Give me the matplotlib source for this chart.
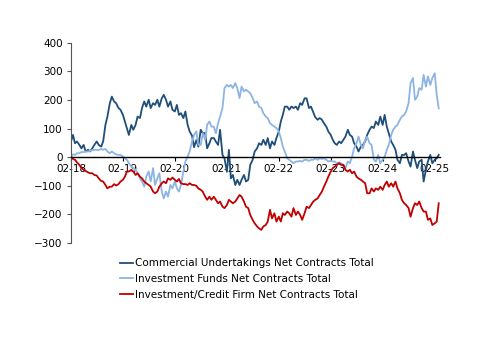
import numpy as np
import pandas as pd
import matplotlib
matplotlib.use("Agg")
import matplotlib.pyplot as plt
import matplotlib.dates as mdates

# semi-monthly readings, Feb 2018 -> Mar 2025
dates = pd.date_range("2018-02-01", periods=171, freq="SMS")

commercial = [55, 78, 49, 55, 43, 31, 43, 20, 26, 20,
              31, 43, 55, 43, 37, 55, 113, 142, 189, 212,
              195, 189, 172, 166, 148, 125, 102, 78, 113, 96,
              113, 142, 137, 172, 195, 177, 201, 172, 189, 183,
              201, 177, 206, 218, 201, 177, 195, 166, 160, 183,
              148, 154, 137, 160, 113, 90, 75, 35, 60, 37,
              96, 84, 84, 31, 49, 67, 67, 55, 43, 96,
              8, -4, -51, 26, -74, -62, -97, -79, -97, -79,
              -62, -85, -79, -27, -9, 20, 31, 49, 43, 61,
              43, 67, 31, 55, 43, 67, 90, 125, 148, 177,
              177, 166, 177, 172, 177, 166, 189, 183, 206, 206,
              172, 177, 157, 140, 131, 137, 131, 119, 107, 90,
              78, 61, 49, 43, 55, 49, 61, 72, 96, 78,
              72, 49, 37, 20, 37, 43, 55, 78, 96, 107,
              102, 125, 113, 142, 113, 148, 107, 84, 55, 43,
              26, -9, -21, 8, 8, 14, -15, -33, 20, -9,
              -38, -15, -9, -85, -44, -15, 8, -21, -9, -4,
              8]

inv_funds = [2, 10, 8, 14, 14, 18, 18, 20, 20, 22,
             25, 26, 26, 25, 29, 26, 29, 20, 14, 20,
             14, 10, 8, 8, 2, -4, -9, -21, -33, -38,
             -44, -56, -74, -85, -103, -68, -50, -85, -38, -97,
             -74, -56, -120, -144, -120, -138, -97, -109, -85, -109,
             -120, -97, -50, -15, 2, 20, 55, 78, 90, 43,
             43, 84, 61, 113, 125, 107, 107, 84, 119, 142,
             172, 242, 253, 247, 253, 242, 259, 242, 207, 247,
             230, 236, 230, 224, 207, 189, 195, 177, 172, 154,
             142, 137, 119, 113, 107, 102, 90, 67, 37, 20,
             -4, -9, -15, -21, -15, -15, -13, -15, -9, -9,
             -13, -9, -9, -4, -9, -4, -6, -4, -9, -15,
             -13, -15, -15, -21, -18, -21, -27, -38, -15, -21,
             2, 31, 49, 72, 43, 31, 61, 72, 49, 43,
             -9, -15, 8, -21, -9, 2, 26, 43, 78, 96,
             107, 113, 131, 142, 148, 160, 189, 259, 277, 201,
             212, 242, 236, 288, 247, 283, 253, 277, 294, 218,
             171]

inv_credit = [2, -6, -9, -18, -27, -38, -44, -48, -53, -56,
              -56, -62, -64, -74, -83, -85, -97, -109, -103, -103,
              -94, -99, -94, -85, -79, -68, -50, -50, -44, -50,
              -62, -56, -68, -74, -85, -91, -97, -103, -120, -126,
              -120, -103, -91, -85, -91, -74, -79, -71, -79, -85,
              -76, -91, -94, -94, -97, -91, -97, -97, -100, -109,
              -114, -120, -138, -149, -138, -149, -138, -149, -161, -155,
              -173, -178, -167, -149, -155, -161, -155, -144, -132, -138,
              -155, -173, -178, -202, -219, -231, -242, -249, -254, -242,
              -237, -225, -184, -214, -196, -225, -208, -225, -196, -202,
              -190, -196, -208, -178, -202, -190, -202, -219, -196, -173,
              -178, -167, -155, -149, -144, -132, -120, -103, -85, -68,
              -50, -38, -33, -27, -21, -27, -27, -44, -50, -44,
              -56, -50, -68, -74, -79, -85, -91, -126, -126, -109,
              -120, -109, -114, -103, -114, -97, -85, -103, -91, -103,
              -85, -109, -126, -149, -161, -167, -178, -208, -178, -161,
              -167, -155, -178, -190, -190, -219, -214, -237, -231, -225,
              -161]

labels = ["Commercial Undertakings Net Contracts Total",
          "Investment Funds Net Contracts Total",
          "Investment/Credit Firm Net Contracts Total"]
colors = ["#1F4E79", "#8DB4E2", "#C00000"]

fig = plt.figure(figsize=(5.0, 3.53), dpi=100)
ax = fig.add_axes([0.142, 0.3116, 0.738, 0.567])

for vals, lab, col in zip([commercial, inv_funds, inv_credit], labels, colors):
    ax.plot(dates, vals, color=col, lw=1.3, label=lab)

ax.set_ylim(-300, 400)
ax.set_yticks(np.arange(-300, 401, 100))
ax.set_xlim(pd.Timestamp("2018-02-01"), pd.Timestamp("2025-03-10"))

# x axis sits on zero
ax.spines["bottom"].set_position(("data", 0))
ax.spines["top"].set_visible(False)
ax.spines["right"].set_visible(False)
ax.spines["left"].set_color("#555555")
ax.spines["bottom"].set_color("black")
ax.spines["bottom"].set_linewidth(1.0)

xt = pd.date_range("2018-02-01", "2025-02-01", freq="12MS")
ax.set_xticks(xt)
ax.xaxis.set_major_formatter(mdates.DateFormatter("%m-%y"))
ax.tick_params(axis="x", direction="out", length=3, pad=2, labelsize=7.5)
ax.tick_params(axis="y", direction="out", length=3, pad=3, labelsize=7.5,
               color="#555555")

fig.legend(loc="upper left", bbox_to_anchor=(0.232, 0.28), frameon=False,
           fontsize=7.5, handlelength=1.2, handletextpad=0.2,
           labelspacing=0.55, borderaxespad=0)

fig.savefig("out.png", dpi=100)
